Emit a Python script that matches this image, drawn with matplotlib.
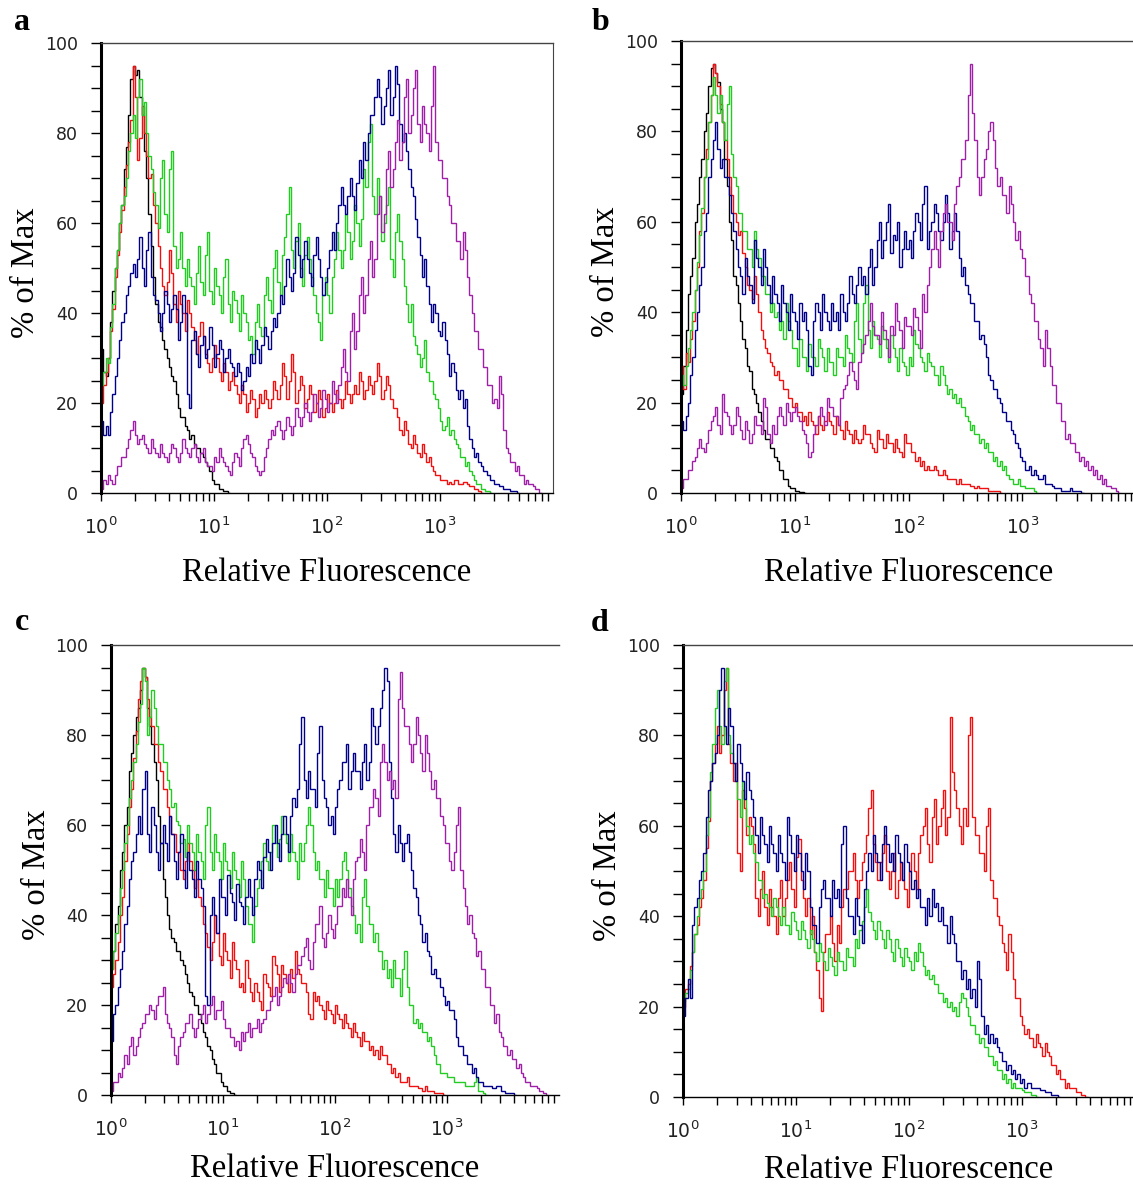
import matplotlib
matplotlib.use('Agg')
import matplotlib.pyplot as plt
from matplotlib.ticker import FixedLocator, FixedFormatter, MultipleLocator
import numpy as np

# each histogram channel is 0.02 decades wide, starting at 10^0
BIN = 0.02

# ---- panel a ----
a_black = [32, 27, 26, 30, 38, 45, 50, 54, 60, 64, 72, 77, 84, 92, 95, 93, 94, 88, 84, 76,
           70, 62, 55, 48, 42, 38, 37, 34, 32, 30, 28, 26, 25, 22, 19, 17, 17, 15, 14, 12,
           13, 11, 10, 10, 9, 8, 7, 6, 5, 3, 2, 2, 1, 1, 0.5, 0.5, 0]
a_red = [20, 24, 27, 30, 36, 41, 48, 53, 58, 63, 68, 73, 78, 83, 95, 88, 74, 79, 86, 80,
         75, 70, 71, 64, 60, 55, 50, 46, 44, 47, 54, 49, 42, 38, 45, 42, 40, 36, 43, 40,
         37, 34, 31, 35, 38, 35, 31, 29, 27, 30, 33, 30, 27, 25, 29, 27, 23, 25, 27, 24,
         22, 20, 24, 22, 18, 20, 23, 21, 17, 19, 22, 20, 23, 21, 19, 21, 25, 23, 21, 24,
         29, 26, 21, 25, 31, 27, 20, 23, 26, 24, 19, 21, 24, 22, 18, 20, 23, 21, 17, 19,
         22, 20, 18, 20, 23, 21, 19, 21, 25, 22, 20, 22, 24, 22, 27, 25, 21, 23, 26, 24,
         22, 25, 29, 26, 21, 23, 26, 24, 21, 19, 19, 17, 14, 13, 16, 14, 11, 10, 13, 11,
         9, 8, 11, 9, 7, 8, 6, 5, 4, 4, 3, 3, 3, 2, 2.5, 2, 3, 3, 2, 2,
         2.5, 2.5, 2, 1.5, 1.5, 1, 1, 0.5, 0]
a_green = [24, 27, 30, 29, 37, 42, 50, 54, 60, 64, 66, 70, 76, 80, 84, 79, 88, 92, 84, 87,
           80, 75, 72, 67, 64, 59, 70, 74, 62, 58, 72, 76, 55, 50, 52, 58, 50, 46, 52, 48,
           46, 42, 49, 55, 47, 44, 53, 58, 45, 42, 50, 46, 44, 40, 48, 52, 42, 38, 45, 43,
           40, 36, 44, 40, 38, 34, 35, 31, 38, 42, 37, 35, 44, 48, 43, 40, 50, 54, 47, 44,
           53, 57, 62, 68, 54, 50, 56, 60, 50, 46, 53, 57, 52, 48, 44, 40, 38, 34, 44, 48,
           44, 40, 48, 52, 58, 54, 50, 54, 62, 58, 52, 56, 64, 60, 55, 61, 72, 68, 78, 82,
           66, 62, 70, 66, 56, 60, 64, 68, 52, 48, 58, 62, 56, 52, 46, 42, 38, 42, 35, 33,
           31, 28, 30, 34, 27, 25, 25, 22, 21, 19, 16, 14, 15, 17, 13, 14, 12, 11, 10, 8,
           8, 6, 7, 5, 4, 3, 2, 2, 1, 1, 0.5, 0.5, 0]
a_blue = [16, 13, 15, 13, 18, 22, 26, 30, 34, 38, 40, 44, 46, 49, 51, 48, 52, 57, 50, 46,
          54, 58, 48, 44, 43, 40, 36, 40, 45, 42, 38, 41, 44, 41, 34, 38, 44, 40, 22, 19,
          34, 36, 31, 28, 33, 35, 30, 32, 37, 33, 28, 31, 34, 32, 27, 30, 32, 29, 28, 26,
          29, 27, 23, 25, 28, 26, 31, 29, 34, 32, 29, 33, 37, 35, 32, 36, 39, 37, 40, 44,
          42, 46, 52, 48, 45, 49, 57, 53, 48, 52, 56, 52, 49, 46, 53, 57, 52, 48, 44, 47,
          50, 54, 58, 54, 60, 64, 68, 64, 62, 66, 70, 66, 63, 69, 74, 70, 78, 74, 80, 84,
          84, 88, 92, 88, 82, 86, 90, 94, 84, 88, 95, 91, 82, 78, 80, 76, 72, 68, 66, 61,
          57, 53, 48, 52, 46, 42, 38, 42, 40, 36, 35, 38, 34, 31, 26, 29, 27, 23, 21, 23,
          19, 21, 15, 12, 10, 8, 9, 7, 6, 5, 5, 4, 3, 3, 2, 2, 1.5, 1.5, 1, 1,
          1, 0.5, 0.5, 0.5, 0]
a_purple = [1, 3, 2, 4, 3, 2, 4, 6, 6, 8, 8, 10, 12, 14, 16, 13, 11, 12, 13, 11,
            10, 9, 12, 10, 9, 8, 11, 9, 8, 7, 9, 11, 10, 8, 7, 9, 12, 10, 9, 8,
            10, 11, 8, 7, 9, 10, 7, 6, 6, 5, 8, 7, 10, 8, 7, 6, 5, 4, 7, 9,
            8, 6, 10, 12, 13, 11, 9, 8, 6, 5, 4, 5, 8, 10, 12, 14, 13, 15, 16, 14,
            12, 14, 17, 15, 13, 15, 19, 17, 15, 17, 20, 18, 16, 18, 22, 20, 17, 19, 23, 21,
            18, 20, 25, 22, 20, 24, 28, 32, 27, 25, 36, 40, 32, 36, 44, 48, 40, 44, 52, 56,
            48, 52, 62, 66, 58, 62, 72, 76, 68, 72, 78, 83, 74, 78, 88, 92, 80, 84, 90, 94,
            82, 78, 86, 82, 80, 76, 86, 95, 78, 74, 74, 70, 70, 66, 64, 60, 60, 56, 56, 52,
            58, 54, 48, 44, 40, 36, 36, 32, 32, 28, 28, 24, 24, 20, 21, 19, 26, 22, 14, 10,
            9, 7, 7, 5, 6, 4, 4, 2, 3, 2, 2, 1.5, 1, 1, 0]

# ---- panel b ----
b_black = [22, 28, 36, 44, 48, 52, 60, 64, 70, 74, 80, 84, 90, 94, 95, 93, 91, 85, 82, 74,
           68, 60, 56, 48, 46, 42, 38, 34, 32, 28, 27, 23, 22, 20, 18, 16, 14, 12, 12, 10,
           10, 8, 7, 5, 5, 3, 3, 1.5, 1, 1, 0.5, 0.5, 0.3, 0.3, 0]
b_red = [28, 23, 31, 29, 34, 38, 45, 50, 58, 62, 70, 76, 82, 88, 95, 93, 90, 86, 82, 78,
         74, 70, 66, 62, 60, 57, 58, 53, 50, 46, 45, 43, 48, 44, 40, 36, 34, 32, 31, 29,
         28, 26, 27, 25, 25, 23, 23, 21, 21, 19, 20, 18, 18, 16, 17, 15, 18, 16, 15, 13,
         17, 15, 14, 16, 18, 16, 15, 13, 17, 15, 14, 12, 16, 14, 13, 11, 14, 12, 11, 12,
         15, 13, 13, 11, 10, 9, 14, 12, 12, 10, 13, 11, 11, 9, 12, 10, 9, 8, 13, 11,
         11, 9, 9, 7, 8, 6, 7, 5, 6, 5, 5, 6, 5, 4, 4, 5, 4, 3, 3, 3,
         3, 2, 3, 2, 2, 2, 2, 1.5, 1.5, 1, 1.5, 1, 1, 1, 1, 0.5, 0.5, 0.5, 0.5, 0.5,
         0]
b_green = [26, 24, 28, 32, 36, 40, 45, 51, 57, 63, 70, 74, 82, 88, 92, 88, 84, 88, 82, 78,
           86, 90, 75, 70, 68, 62, 62, 58, 58, 54, 54, 50, 58, 54, 52, 48, 48, 44, 44, 40,
           42, 39, 40, 36, 38, 34, 42, 38, 36, 32, 32, 28, 34, 30, 30, 27, 33, 30, 30, 28,
           34, 32, 30, 27, 32, 29, 29, 26, 32, 30, 30, 28, 35, 32, 31, 29, 38, 42, 34, 31,
           42, 46, 36, 32, 38, 35, 34, 30, 37, 34, 32, 29, 35, 32, 30, 27, 32, 29, 28, 26,
           30, 28, 36, 33, 32, 30, 29, 27, 31, 29, 28, 26, 26, 24, 28, 26, 24, 22, 23, 21,
           22, 20, 21, 19, 19, 17, 16, 14, 15, 13, 13, 11, 12, 10, 11, 9, 9, 7, 8, 6,
           7, 5, 6, 4, 3, 3, 2, 2, 3, 1.5, 1.5, 1, 1, 1, 1, 0.5, 0]
b_blue = [16, 14, 17, 20, 26, 30, 36, 40, 46, 50, 58, 62, 70, 74, 78, 82, 76, 72, 74, 70,
          70, 66, 62, 58, 54, 50, 48, 44, 52, 48, 46, 42, 56, 52, 50, 46, 54, 50, 46, 42,
          48, 44, 42, 38, 46, 42, 40, 36, 44, 40, 38, 34, 42, 38, 40, 36, 28, 26, 38, 42,
          40, 36, 44, 40, 38, 36, 42, 38, 40, 36, 44, 40, 38, 42, 48, 44, 42, 46, 50, 46,
          48, 44, 50, 54, 46, 50, 56, 60, 52, 56, 60, 64, 53, 57, 56, 60, 50, 54, 58, 54,
          56, 52, 58, 62, 60, 56, 64, 68, 54, 58, 60, 64, 62, 58, 56, 60, 66, 62, 54, 58,
          62, 58, 52, 48, 50, 46, 44, 42, 42, 38, 38, 34, 35, 33, 30, 26, 25, 23, 23, 21,
          20, 18, 18, 16, 16, 14, 13, 11, 10, 8, 7, 5, 5, 6, 4, 5, 4, 3, 3, 4,
          2, 2, 2, 1.5, 1, 1, 1, 0.5, 0.5, 0.5, 0.5, 1, 0.5, 0.5, 0.5, 0.5, 0]
b_purple = [1, 3, 3, 5, 5, 7, 8, 10, 12, 10, 9, 11, 14, 16, 17, 19, 15, 13, 22, 18,
            17, 15, 13, 15, 19, 17, 14, 12, 16, 14, 11, 13, 17, 15, 15, 13, 21, 19, 13, 11,
            15, 13, 17, 19, 17, 15, 20, 18, 16, 18, 19, 17, 16, 14, 13, 11, 8, 9, 13, 15,
            17, 19, 17, 15, 21, 19, 19, 17, 17, 15, 21, 23, 24, 26, 29, 27, 25, 23, 29, 31,
            33, 35, 38, 42, 37, 35, 35, 33, 40, 36, 34, 30, 37, 35, 42, 38, 36, 32, 39, 37,
            37, 35, 41, 39, 36, 32, 44, 40, 46, 50, 54, 58, 54, 50, 58, 62, 64, 60, 60, 56,
            64, 68, 70, 74, 74, 78, 88, 95, 84, 78, 70, 66, 70, 74, 76, 80, 82, 78, 72, 68,
            70, 66, 66, 62, 68, 64, 60, 56, 58, 54, 52, 48, 48, 44, 42, 38, 38, 34, 32, 28,
            36, 32, 28, 24, 24, 20, 20, 16, 16, 12, 13, 11, 11, 9, 9, 7, 8, 6, 7, 5,
            6, 4, 5, 3, 4, 2, 3, 1.5, 1.5, 1, 1, 0.5, 0]

# ---- panel c ----
c_black = [28, 32, 38, 42, 50, 54, 60, 64, 72, 76, 80, 84, 86, 90, 95, 93, 86, 82, 78, 74,
           70, 62, 56, 48, 44, 40, 37, 35, 34, 32, 32, 30, 29, 27, 25, 23, 22, 20, 20, 18,
           16, 14, 13, 11, 10, 8, 7, 5, 5, 3, 2, 2, 1, 0.5, 0.5, 0]
c_red = [24, 27, 30, 34, 40, 44, 52, 58, 64, 68, 75, 81, 88, 92, 95, 93, 88, 84, 82, 78,
         78, 74, 72, 68, 68, 64, 62, 58, 58, 54, 54, 50, 48, 52, 56, 52, 50, 46, 48, 44,
         42, 38, 36, 33, 30, 34, 40, 36, 31, 29, 36, 32, 30, 26, 34, 30, 28, 24, 25, 23,
         30, 26, 23, 21, 25, 23, 21, 19, 27, 25, 24, 22, 31, 29, 27, 23, 29, 27, 25, 23,
         28, 26, 32, 28, 27, 25, 25, 23, 18, 17, 23, 21, 22, 20, 19, 17, 21, 19, 18, 16,
         20, 18, 17, 15, 18, 16, 15, 13, 16, 14, 13, 11, 14, 12, 12, 10, 11, 9, 10, 8,
         11, 9, 9, 7, 7, 5, 6, 4, 5, 3, 3, 3, 4, 2, 2, 2, 2, 1.5, 1.5, 1,
         2, 1, 1, 1, 0.5, 0.5, 0.5, 0.5, 0]
c_green = [28, 32, 36, 40, 46, 50, 56, 60, 66, 70, 74, 78, 83, 87, 95, 92, 80, 84, 90, 86,
           82, 78, 78, 74, 74, 70, 68, 64, 65, 61, 60, 56, 57, 53, 60, 56, 54, 50, 58, 54,
           52, 48, 60, 64, 54, 50, 58, 54, 52, 48, 56, 52, 50, 46, 54, 50, 48, 44, 52, 48,
           42, 38, 38, 34, 42, 46, 48, 52, 56, 52, 50, 54, 60, 56, 53, 57, 62, 58, 56, 52,
           58, 54, 52, 48, 56, 52, 56, 60, 64, 60, 54, 50, 52, 48, 48, 44, 50, 46, 46, 42,
           48, 44, 48, 52, 54, 50, 46, 42, 40, 36, 38, 34, 44, 48, 42, 38, 38, 34, 36, 32,
           32, 28, 30, 26, 28, 24, 30, 26, 26, 22, 28, 32, 24, 20, 20, 16, 17, 15, 16, 14,
           14, 12, 13, 11, 9, 7, 7, 5, 5, 5, 4, 4, 4, 3, 3, 3, 3, 3, 2, 2,
           2, 2, 3, 4, 1, 1, 0.5, 0]
c_blue = [12, 18, 20, 24, 28, 32, 38, 42, 48, 52, 54, 58, 62, 58, 68, 72, 58, 54, 64, 60,
          54, 50, 56, 60, 56, 52, 62, 58, 52, 48, 54, 58, 50, 46, 54, 50, 48, 44, 52, 48,
          46, 42, 22, 20, 40, 44, 40, 36, 48, 44, 44, 40, 49, 45, 43, 39, 47, 43, 42, 38,
          44, 48, 44, 40, 48, 52, 50, 46, 53, 57, 54, 50, 56, 60, 56, 52, 58, 62, 58, 54,
          62, 66, 64, 68, 78, 84, 70, 66, 72, 68, 68, 64, 76, 82, 70, 66, 64, 60, 62, 58,
          64, 68, 70, 74, 74, 78, 68, 72, 76, 72, 72, 68, 74, 78, 70, 74, 86, 82, 78, 82,
          86, 90, 95, 92, 74, 66, 58, 54, 60, 56, 52, 56, 58, 54, 50, 46, 44, 40, 38, 34,
          36, 32, 31, 27, 28, 26, 26, 24, 22, 20, 21, 19, 19, 17, 13, 11, 11, 9, 9, 7,
          7, 5, 6, 4, 3, 3, 2, 2, 2, 2, 1.5, 1.5, 2, 2, 1, 1, 0.5, 0.5, 0.5, 0.5,
          0]
c_purple = [1, 3, 3, 5, 4, 6, 9, 7, 11, 13, 9, 11, 13, 15, 16, 18, 18, 20, 19, 17,
            20, 22, 22, 24, 18, 16, 15, 13, 9, 7, 11, 13, 14, 16, 16, 18, 15, 13, 15, 17,
            18, 20, 16, 18, 20, 22, 17, 19, 19, 21, 17, 15, 15, 13, 13, 11, 12, 10, 14, 12,
            14, 16, 13, 15, 15, 17, 14, 16, 17, 19, 19, 21, 22, 24, 20, 22, 24, 26, 25, 27,
            25, 23, 27, 29, 29, 31, 33, 35, 30, 28, 34, 38, 38, 42, 35, 33, 36, 40, 37, 35,
            38, 42, 42, 46, 44, 48, 44, 40, 48, 52, 53, 57, 54, 50, 60, 64, 64, 68, 66, 62,
            74, 78, 74, 70, 72, 68, 70, 66, 88, 94, 86, 82, 82, 78, 74, 78, 84, 80, 76, 72,
            80, 76, 72, 68, 70, 66, 66, 62, 60, 56, 56, 52, 50, 54, 60, 64, 50, 46, 42, 38,
            40, 36, 35, 31, 32, 28, 28, 24, 24, 20, 20, 16, 18, 14, 13, 11, 11, 9, 10, 8,
            8, 6, 7, 5, 4, 3, 3, 2, 2, 2, 1.5, 1, 1, 0.5, 0]

# ---- panel d ----
d_red = [20, 24, 25, 29, 32, 36, 38, 42, 44, 48, 55, 61, 70, 74, 78, 82, 76, 80, 90, 95,
         78, 74, 70, 74, 54, 50, 68, 64, 58, 62, 60, 56, 44, 40, 46, 50, 42, 38, 46, 42,
         40, 36, 44, 48, 40, 44, 48, 52, 46, 42, 53, 57, 48, 44, 40, 44, 36, 40, 32, 28,
         22, 19, 32, 36, 36, 40, 34, 30, 38, 34, 42, 46, 46, 50, 50, 54, 48, 44, 48, 52,
         54, 58, 64, 68, 56, 52, 48, 52, 54, 58, 50, 46, 50, 54, 44, 48, 52, 48, 46, 42,
         50, 54, 50, 46, 54, 58, 60, 64, 56, 52, 62, 66, 56, 60, 64, 68, 58, 62, 84, 72,
         68, 64, 60, 56, 64, 60, 80, 84, 62, 58, 58, 54, 54, 50, 60, 64, 48, 44, 44, 40,
         38, 34, 32, 28, 36, 32, 26, 22, 22, 18, 16, 14, 15, 13, 13, 11, 14, 12, 11, 9,
         12, 10, 9, 7, 7, 5, 6, 4, 4, 2, 3, 2, 2, 2, 1, 1, 0.5, 0.5, 0]
d_green = [21, 23, 24, 28, 32, 36, 40, 44, 46, 50, 58, 62, 72, 78, 86, 90, 82, 78, 92, 95,
           80, 76, 74, 70, 66, 62, 70, 66, 60, 56, 58, 54, 52, 48, 48, 44, 45, 43, 42, 40,
           44, 42, 40, 38, 42, 38, 38, 36, 41, 39, 37, 35, 39, 37, 35, 33, 37, 35, 32, 30,
           34, 32, 30, 28, 33, 31, 29, 27, 32, 30, 30, 28, 33, 31, 31, 29, 35, 33, 37, 39,
           42, 46, 41, 39, 37, 35, 39, 37, 35, 33, 37, 35, 32, 30, 35, 33, 31, 29, 33, 31,
           30, 28, 32, 30, 34, 32, 29, 27, 28, 26, 27, 25, 25, 23, 23, 21, 22, 20, 21, 19,
           20, 18, 21, 23, 22, 20, 18, 16, 16, 14, 14, 12, 13, 11, 11, 9, 9, 7, 8, 6,
           6, 4, 5, 3, 4, 2, 3, 2, 2, 2, 1.5, 1, 1, 1, 0.5, 0.5, 0]
d_blue = [18, 22, 26, 22, 38, 42, 44, 48, 50, 54, 62, 68, 70, 74, 76, 80, 90, 95, 82, 78,
          86, 82, 74, 70, 78, 74, 70, 66, 72, 68, 66, 62, 58, 54, 62, 58, 56, 52, 60, 56,
          54, 50, 58, 54, 52, 48, 62, 58, 54, 50, 58, 54, 50, 46, 54, 50, 42, 38, 38, 34,
          42, 46, 48, 44, 44, 40, 48, 44, 46, 42, 56, 60, 44, 40, 40, 36, 44, 40, 38, 34,
          46, 50, 54, 50, 58, 54, 52, 48, 56, 60, 56, 52, 54, 50, 58, 54, 52, 48, 56, 52,
          50, 46, 48, 44, 46, 42, 42, 38, 44, 40, 46, 42, 43, 39, 42, 38, 38, 34, 40, 36,
          34, 30, 30, 26, 28, 24, 26, 22, 24, 20, 30, 26, 18, 14, 16, 12, 14, 12, 13, 11,
          10, 8, 8, 6, 7, 5, 6, 4, 5, 3, 4, 2, 3, 3, 2, 2, 2, 2, 1.5, 1.5,
          1, 1, 1, 0.5, 0.5, 0.5, 0]

BLACK, RED, GREEN, BLUE, PURPLE = '#000000', '#f01010', '#22cc22', '#000088', '#a01fa8'

panels = [
    ('a', [(a_black, BLACK), (a_red, RED), (a_green, GREEN), (a_blue, BLUE), (a_purple, PURPLE)]),
    ('b', [(b_black, BLACK), (b_red, RED), (b_green, GREEN), (b_blue, BLUE), (b_purple, PURPLE)]),
    ('c', [(c_black, BLACK), (c_red, RED), (c_green, GREEN), (c_blue, BLUE), (c_purple, PURPLE)]),
    ('d', [(d_red, RED), (d_green, GREEN), (d_blue, BLUE)]),
]

xtick_vals = [1, 10, 100, 1000]
xtick_labels = ['$10^{0}$', '$10^{1}$', '$10^{2}$', '$10^{3}$']
ytick_vals = [0, 20, 40, 60, 80, 100]

W, H = 1133, 1187
# axes boxes in pixels: left, top, right, bottom
boxes = {'a': (101, 43, 553, 493), 'b': (681, 41, 1136, 493),
         'c': (111, 645, 559, 1095), 'd': (683, 645, 1135, 1097)}
letter_pos = {'a': (22, 30), 'b': (600, 30), 'c': (22, 630), 'd': (600, 631)}
# baseline of the x label below the axes, in axes fractions
xlabel_y = {'a': -0.195, 'b': -0.195, 'c': -0.182, 'd': -0.18}

fig = plt.figure(figsize=(W / 100, H / 100), dpi=100)

for name, curves in panels:
    l, t, r, b = boxes[name]
    ax = fig.add_axes([l / W, 1 - b / H, (r - l) / W, (b - t) / H])
    for vals, col in curves:
        edges = 10 ** (BIN * np.arange(len(vals) + 1))
        ax.stairs(vals, edges, color=col, lw=1.0)

    ax.set_xscale('log')
    ax.set_xlim(1, 1e4)
    ax.set_ylim(0, 100)

    ax.xaxis.set_major_locator(FixedLocator(xtick_vals))
    ax.xaxis.set_major_formatter(FixedFormatter(xtick_labels))
    minors = [m * 10 ** e for e in range(4) for m in range(2, 10)]
    ax.xaxis.set_minor_locator(FixedLocator(minors))
    ax.yaxis.set_major_locator(FixedLocator(ytick_vals))
    ax.yaxis.set_minor_locator(MultipleLocator(5))

    ax.tick_params(axis='x', which='both', direction='out', length=6, width=1,
                   pad=11, labelsize=13.5, labelcolor='#222222')
    ax.tick_params(axis='y', which='both', direction='out', length=7.5, width=1,
                   pad=9, labelsize=12.5, labelcolor='#222222')

    ax.spines['left'].set_linewidth(2.2)
    ax.spines['bottom'].set_linewidth(1.0)
    ax.spines['top'].set_color('#444444')
    ax.spines['top'].set_linewidth(1.0)
    ax.spines['right'].set_color('#444444')
    if name in ('c', 'd'):
        ax.spines['right'].set_visible(False)

    ax.text(0.5, xlabel_y[name], 'Relative Fluorescence', transform=ax.transAxes,
            ha='center', va='baseline', fontsize=23.5, family='Liberation Serif')
    ax.text(-0.166, 0.49, '% of Max', transform=ax.transAxes, rotation=90,
            ha='center', va='center', fontsize=23.5, family='Liberation Serif')

    lx, ly = letter_pos[name]
    fig.text(lx / W, 1 - ly / H, name, ha='center', va='baseline',
             fontsize=23, fontweight='bold', family='Liberation Serif')

fig.savefig('out.png', dpi=100)
